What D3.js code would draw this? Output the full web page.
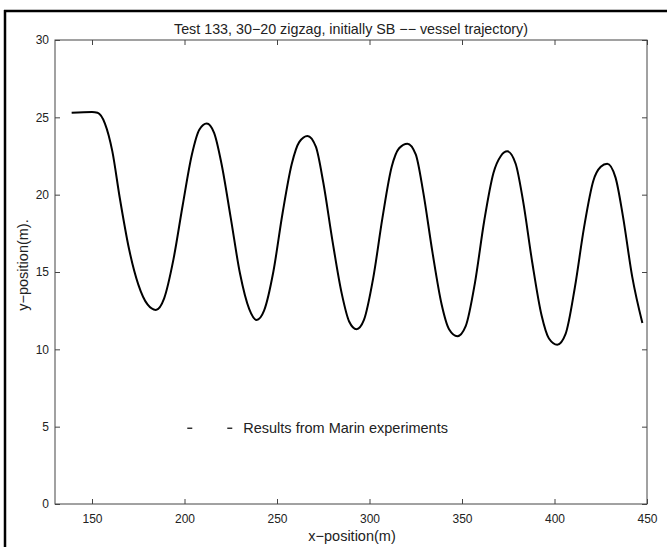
<!DOCTYPE html>
<html>
<head>
<meta charset="utf-8">
<script src="https://cdn.jsdelivr.net/npm/d3@7"></script>
<style>
  body { margin: 0; background: #fff; }
  svg text { font-family: "Liberation Sans", Arial, sans-serif; fill: #222; }
</style>
</head>
<body>
<div id="chart"><svg></svg></div>
<script>
// trajectory (x in m, y in m)
const xPos = [139, 150, 153, 157, 161, 165, 170, 175, 180, 184.5,
  189, 194, 199, 204, 208, 212, 216, 220, 225, 230, 235, 239,
  243, 248, 253, 258, 262, 266.5, 271, 275, 280, 285, 289, 293,
  297, 302, 307, 312, 316, 320.5, 325, 329, 334, 339, 343, 347.5,
  352, 357, 362, 367, 371, 374.5, 379, 383, 388, 393, 397, 401.5,
  406, 411, 416, 421, 425, 428.5, 433, 437, 442, 447.5];
const yPos = [25.3, 25.35, 25.3, 24.6, 22.8, 19.8, 16.5, 14.2, 12.9, 12.55,
  13.3, 15.8, 19.3, 22.6, 24.2, 24.6, 24.0, 22.0, 18.5, 14.9, 12.6, 11.9,
  12.5, 15.0, 18.8, 22.0, 23.4, 23.8, 23.1, 20.8, 17.0, 13.6, 11.8, 11.3,
  11.9, 14.6, 18.5, 21.8, 23.0, 23.3, 22.6, 20.2, 16.3, 12.9, 11.3, 10.85,
  11.5, 14.3, 18.3, 21.4, 22.5, 22.8, 22.0, 19.6, 15.6, 12.2, 10.7, 10.3,
  11.0, 14.0, 17.9, 20.9, 21.8, 22.0, 21.1, 18.6, 14.7, 11.7];
const xTicks = [150, 200, 250, 300, 350, 400, 450];
const yTicks = [0, 5, 10, 15, 20, 25, 30];
const titleText = "Test 133, 30\u221220 zigzag, initially SB \u2212\u2212 vessel trajectory)";
const legendLabel = "Results from Marin experiments";

const W = 667, H = 547;
const margin = { top: 40, right: 20, bottom: 43, left: 55 },
  width = W - margin.left - margin.right,
  height = H - margin.top - margin.bottom;

const root = d3.select("#chart svg").attr("width", W).attr("height", H);

// outer frame (left and top edges visible)
root.append("line").attr("x1", 5).attr("x2", 5).attr("y1", 10).attr("y2", H)
  .attr("stroke", "#000").attr("stroke-width", 2.5);
root.append("line").attr("x1", 4).attr("x2", W).attr("y1", 11).attr("y2", 11)
  .attr("stroke", "#000").attr("stroke-width", 2.5);

const svg = root.append("g").attr("transform", `translate(${margin.left},${margin.top})`);

const x = d3.scaleLinear().domain([130, 450]).range([0, width]);
const y = d3.scaleLinear().domain([0, 30]).range([height, 0]);

const data = xPos.map((d, i) => ({ x: d, y: yPos[i] }));

// axes, ticks pointing inward, mirrored on top/right
function styleAxis(g) {
  g.select(".domain").remove();
  g.selectAll(".tick line").attr("stroke", "#444");
  g.selectAll(".tick text").style("font-size", "12px").attr("fill", "#222");
}
svg.append("g").attr("transform", `translate(0,${height})`)
  .call(d3.axisBottom(x).tickValues(xTicks).tickSizeInner(-5).tickSizeOuter(0).tickPadding(10))
  .call(styleAxis);
svg.append("g")
  .call(d3.axisTop(x).tickValues(xTicks).tickSizeInner(-5).tickSizeOuter(0).tickFormat(""))
  .call(styleAxis);
svg.append("g")
  .call(d3.axisLeft(y).tickValues(yTicks).tickSizeInner(-5).tickSizeOuter(0).tickPadding(6))
  .call(styleAxis);
svg.append("g").attr("transform", `translate(${width},0)`)
  .call(d3.axisRight(y).tickValues(yTicks).tickSizeInner(-5).tickSizeOuter(0).tickFormat(""))
  .call(styleAxis);

svg.append("rect")
  .attr("width", width).attr("height", height)
  .attr("fill", "none").attr("stroke", "#444").attr("stroke-width", 1);

const line = d3.line().x((d) => x(d.x)).y((d) => y(d.y)).curve(d3.curveMonotoneX);

svg.append("path")
  .datum(data)
  .attr("d", line)
  .attr("fill", "none")
  .attr("stroke", "#000")
  .attr("stroke-width", 2);

// legend: dashed sample (two dashes) + label
const legend = svg.append("g").attr("transform", `translate(${x(201.5)},${y(4.9)})`);
legend.selectAll("line.dash")
  .data([0, 40])
  .enter()
  .append("line")
  .attr("class", "dash")
  .attr("x1", (d) => d).attr("x2", (d) => d + 5)
  .attr("y1", 0).attr("y2", 0)
  .attr("stroke", "#000").attr("stroke-width", 1.2);
legend.append("text").attr("x", 56).attr("y", 0).attr("dy", "0.35em")
  .style("font-size", "14.5px").text(legendLabel);

// title and axis labels
root.append("text")
  .attr("x", margin.left + width / 2).attr("y", 34)
  .style("text-anchor", "middle").style("font-size", "14.3px")
  .text(titleText);

root.append("text")
  .attr("x", margin.left + width / 2 + 1).attr("y", 541)
  .style("text-anchor", "middle").style("font-size", "14.5px")
  .text("x\u2212position(m)");

root.append("text")
  .attr("transform", `translate(28,${margin.top + 225}) rotate(-90)`)
  .style("text-anchor", "middle").style("font-size", "14.5px")
  .text("y\u2212position(m).");
</script>
</body>
</html>
